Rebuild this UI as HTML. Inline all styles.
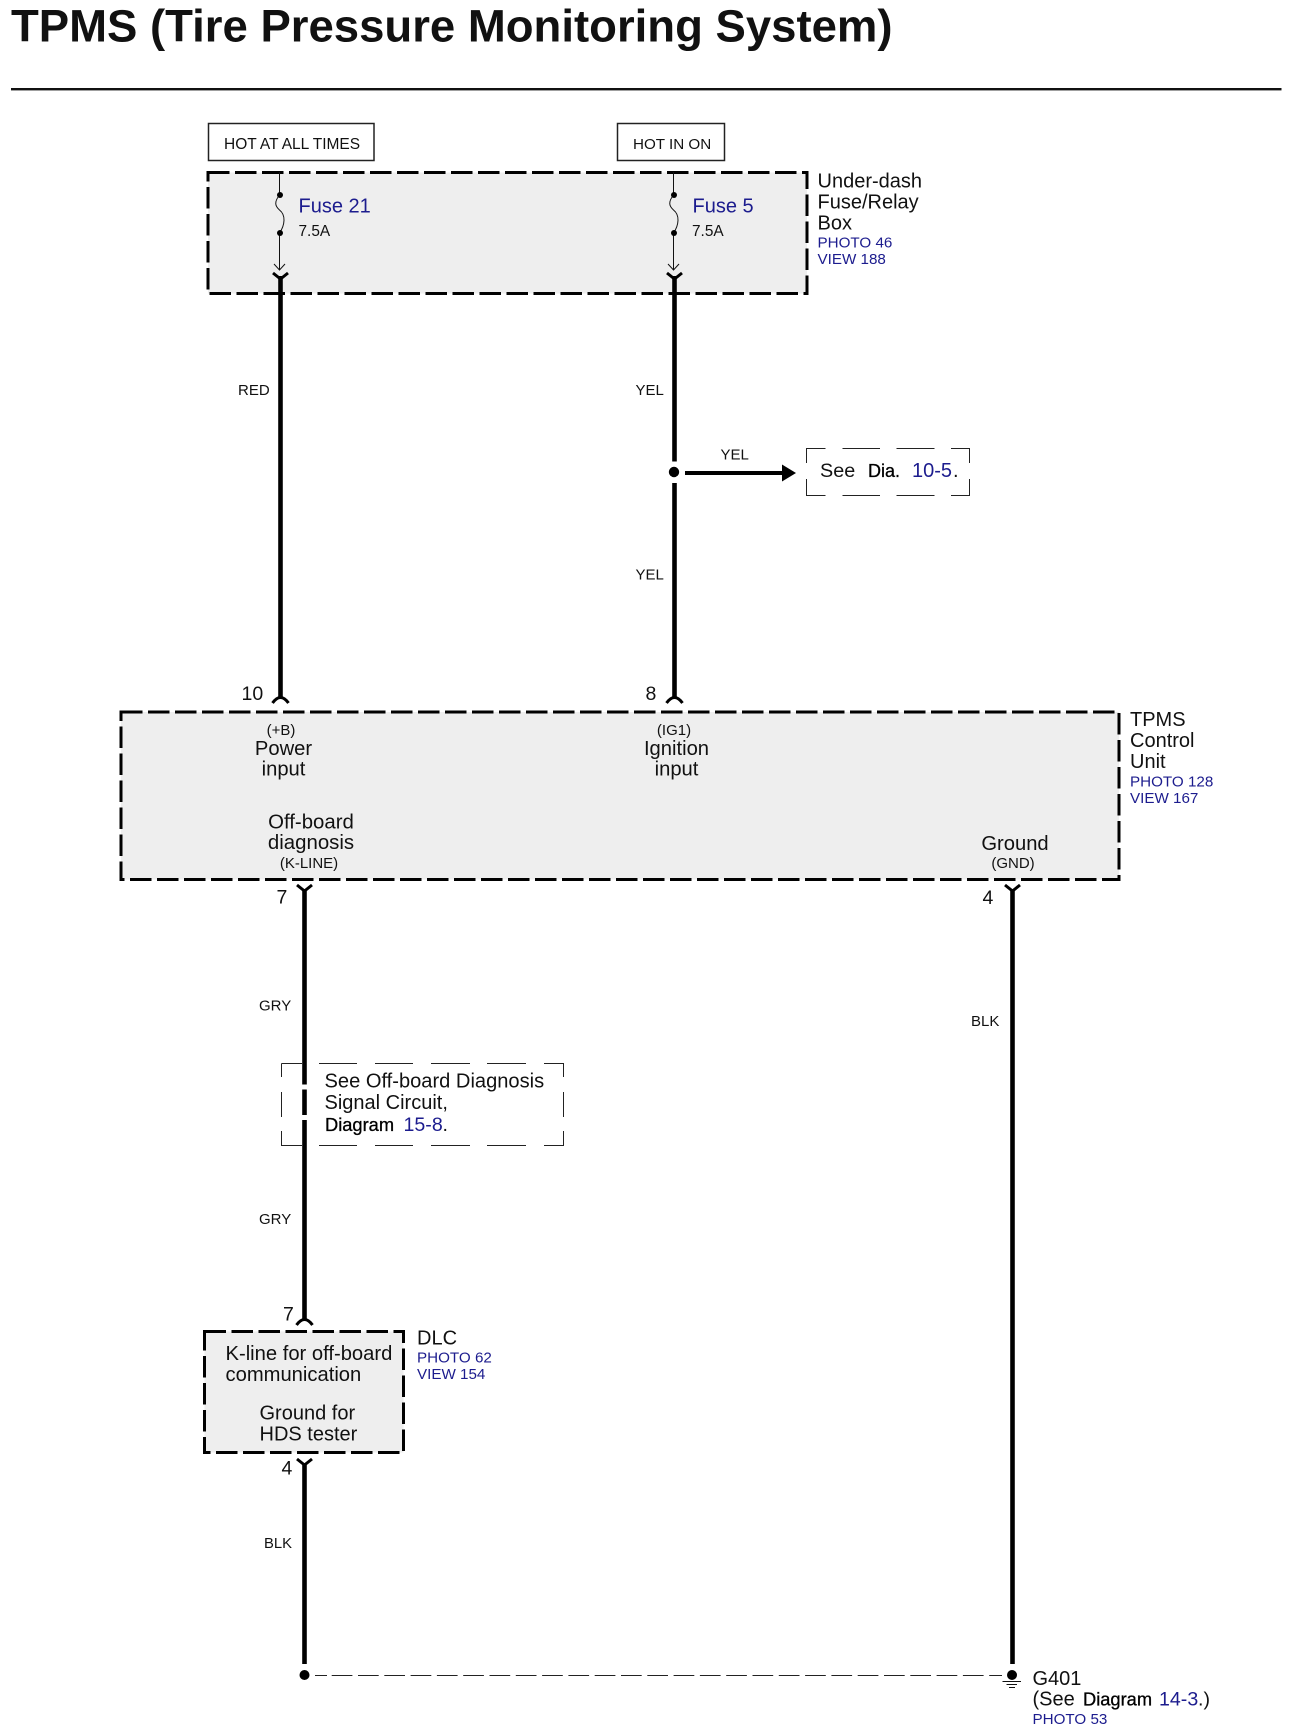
<!DOCTYPE html>
<html><head><meta charset="utf-8"><title>TPMS</title>
<style>
html,body{margin:0;padding:0;background:#fff}
svg{display:block}
text{font-family:"Liberation Sans",Arial,sans-serif;fill:#111}
.b{fill:#1c1c8e}
.s{font-size:15.2px}.m{font-size:20.2px}.w{font-size:15px}
.h{fill:#000;stroke:#000;stroke-width:.3px}
.box{fill:#eee;stroke:#000;stroke-width:3;stroke-dasharray:21.5 5.5}
.wire{stroke:#000;stroke-width:4.6;fill:none}
.thin{stroke:#111;stroke-width:1;fill:none}
.fork{stroke:#000;stroke-width:3;fill:none}
</style></head><body>
<svg width="1294" height="1735" viewBox="0 0 1294 1735" xmlns="http://www.w3.org/2000/svg">
<rect width="1294" height="1735" fill="#fff"/>
<text x="11" y="41.500" font-size="45.5" font-weight="700" fill="#000">TPMS (Tire Pressure Monitoring System)</text>
<rect x="11" y="88" width="1270.500" height="2.400" fill="#111"/>

<rect x="208.500" y="123.500" width="165.500" height="37" fill="#fff" stroke="#222" stroke-width="1.500"/>
<rect x="617.500" y="123.500" width="107" height="37" fill="#fff" stroke="#222" stroke-width="1.500"/>
<text x="224" y="149" font-size="15.500">HOT AT ALL TIMES</text>
<text x="633" y="149" font-size="15.200">HOT IN ON</text>

<rect x="208" y="172.500" width="599" height="121" class="box"/>
<rect x="121" y="712" width="998" height="167.500" class="box"/>
<rect x="204.500" y="1331.500" width="199" height="121" class="box"/>

<!-- fuses -->
<path class="thin" d="M279.500 172V195M279.500 233V270M274 264L279.500 270L285 264"/>
<path class="thin" d="M279.500 195C274 202 275 206 279.500 210C286 215 285 225 279.500 233"/>
<circle cx="280" cy="195" r="3"/><circle cx="280" cy="233" r="3"/>
<path class="thin" d="M673.500 172V195M673.500 233V270M668 264L673.500 270L679 264"/>
<path class="thin" d="M673.500 195C668 202 669 206 673.500 210C680 215 679 225 673.500 233"/>
<circle cx="674" cy="195" r="3"/><circle cx="674" cy="233" r="3"/>

<text x="298.500" y="212.500" font-size="20" class="b">Fuse 21</text>
<text x="298.500" y="236" font-size="15.400">7.5A</text>
<text x="692.500" y="212.500" font-size="20" class="b">Fuse 5</text>
<text x="692" y="236" font-size="15.400">7.5A</text>

<text x="817.500" y="187.500" font-size="20">Under-dash</text>
<text x="817.500" y="208.500" font-size="20">Fuse/Relay</text>
<text x="817.500" y="229.500" font-size="20">Box</text>
<text x="817.500" y="247.500" class="s b">PHOTO 46</text>
<text x="817.500" y="264" class="s b">VIEW 188</text>

<!-- wires top -->
<path class="wire" d="M280.500 276V698"/>
<path class="wire" d="M674.500 276V461.500M674.500 483V698"/>
<path class="fork" d="M273 273L280.500 279L288 273M667 273L674.500 279L682 273"/>
<path class="fork" d="M272.500 703Q280.500 692 288.500 703M666.500 703Q674.500 692 682.500 703"/>
<text x="238" y="395" class="w">RED</text>
<text x="635.500" y="395" class="w">YEL</text>
<text x="635.500" y="579.500" class="w">YEL</text>
<text x="720.500" y="459.500" class="w">YEL</text>
<circle cx="674" cy="472" r="5.200" fill="#000"/>
<path d="M685 473H784" stroke="#000" stroke-width="4"/>
<path d="M782 464.500L796 473L782 481.500Z" fill="#000"/>

<path fill="none" stroke="#222" stroke-width="1" d="M825.500 448.500H806.500V463M806.500 479V495.500H825.500M842.500 448.500H880M896.500 448.500H934.500M951 448.500H969.500V463M969.500 479V495.500H951M934.500 495.500H896.500M880 495.500H842.500"/>
<text x="820" y="477" font-size="19.800">See</text>
<text x="868" y="477" font-size="18" class="h">Dia.</text>
<text x="912" y="477" font-size="20" class="b">10-5</text>
<text x="953" y="477" font-size="20">.</text>

<text x="241.500" y="700" font-size="19.500">10</text>
<text x="645.500" y="700" font-size="19.500">8</text>
<text x="281" y="735" text-anchor="middle" class="w">(+B)</text>
<text x="283.500" y="755" text-anchor="middle" class="m">Power</text>
<text x="283.500" y="775.500" text-anchor="middle" class="m">input</text>
<text x="674" y="735" text-anchor="middle" class="w">(IG1)</text>
<text x="676.500" y="755" text-anchor="middle" class="m">Ignition</text>
<text x="676.500" y="775.500" text-anchor="middle" class="m">input</text>
<text x="311" y="828.500" text-anchor="middle" font-size="20.400">Off-board</text>
<text x="311" y="849" text-anchor="middle" font-size="20.400">diagnosis</text>
<text x="309" y="868" text-anchor="middle" class="w">(K-LINE)</text>
<text x="1015" y="850" text-anchor="middle" class="m">Ground</text>
<text x="1013" y="868" text-anchor="middle" class="w">(GND)</text>
<text x="1130" y="726" font-size="20">TPMS</text>
<text x="1130" y="747" font-size="20">Control</text>
<text x="1130" y="768" font-size="20">Unit</text>
<text x="1130" y="786.500" class="s b">PHOTO 128</text>
<text x="1130" y="803" class="s b">VIEW 167</text>

<!-- lower wires -->
<path class="wire" d="M304.500 890V1320M304.500 1464V1664"/>
<path class="wire" d="M1012.500 890V1664"/>
<path class="fork" d="M297 885L304.500 891L312 885M1005 885L1012.500 891L1020 885M297 1459L304.500 1465L312 1459"/>
<path class="fork" d="M296.500 1325Q304.500 1314 312.500 1325"/>
<text x="276.500" y="903.500" font-size="19.500">7</text>
<text x="982.500" y="904" font-size="19.500">4</text>
<text x="259" y="1010.500" class="w">GRY</text>
<text x="971" y="1026" class="w">BLK</text>
<text x="259" y="1224" class="w">GRY</text>

<path d="M302 1087H308M302 1117.500H308" stroke="#fff" stroke-width="5"/>
<path fill="none" stroke="#222" stroke-width="1" d="M281.500 1063.500H302M319 1063.500H357M375 1063.500H413M431 1063.500H470M487 1063.500H526M544 1063.500H563.500V1077M563.500 1092V1117M563.500 1131V1145.500H544M526 1145.500H487M470 1145.500H431M413 1145.500H375M357 1145.500H319M302 1145.500H281.500V1131M281.500 1117V1092M281.500 1077V1063.500"/>
<text x="324.500" y="1087.500" font-size="20.100">See Off-board Diagnosis</text>
<text x="324.500" y="1109" font-size="20">Signal Circuit,</text>
<text x="325" y="1131" font-size="18.300" class="h">Diagram</text>
<text x="403.500" y="1131" font-size="19.6" class="b">15-8</text>
<text x="442.500" y="1131" font-size="19.6">.</text>

<text x="283" y="1320.500" font-size="19.500">7</text>
<text x="225.500" y="1360" class="m">K-line for off-board</text>
<text x="225.500" y="1381" class="m">communication</text>
<text x="259.500" y="1419.500" font-size="20">Ground for</text>
<text x="259.500" y="1440.500" font-size="20">HDS tester</text>
<text x="417" y="1344.500" font-size="20">DLC</text>
<text x="417" y="1362.500" class="s b">PHOTO 62</text>
<text x="417" y="1379" class="s b">VIEW 154</text>
<text x="281.500" y="1474.500" font-size="19.500">4</text>
<text x="264" y="1548" font-size="14.800">BLK</text>

<circle cx="304.500" cy="1675" r="5" fill="#000"/>
<path d="M315 1675.500H327" stroke="#222" stroke-width="1" fill="none"/>
<path d="M331.700 1675.500H1002" stroke="#222" stroke-width="1" stroke-dasharray="20.7 5.6" fill="none"/>
<circle cx="1012" cy="1675" r="5" fill="#000"/>
<path d="M1002.500 1681.500H1021M1006.500 1684.500H1017M1009 1687.500H1015" stroke="#111" stroke-width="1" fill="none"/>
<text x="1032.500" y="1685" font-size="20">G401</text>
<text x="1032.500" y="1705.500" font-size="20">(See</text>
<text x="1083" y="1705.500" font-size="18.300" class="h">Diagram</text>
<text x="1159" y="1705.500" font-size="19.6" class="b">14-3</text>
<text x="1198" y="1705.500" font-size="19.6">.)</text>
<text x="1032.500" y="1724" class="s b">PHOTO 53</text>
</svg>
</body></html>
